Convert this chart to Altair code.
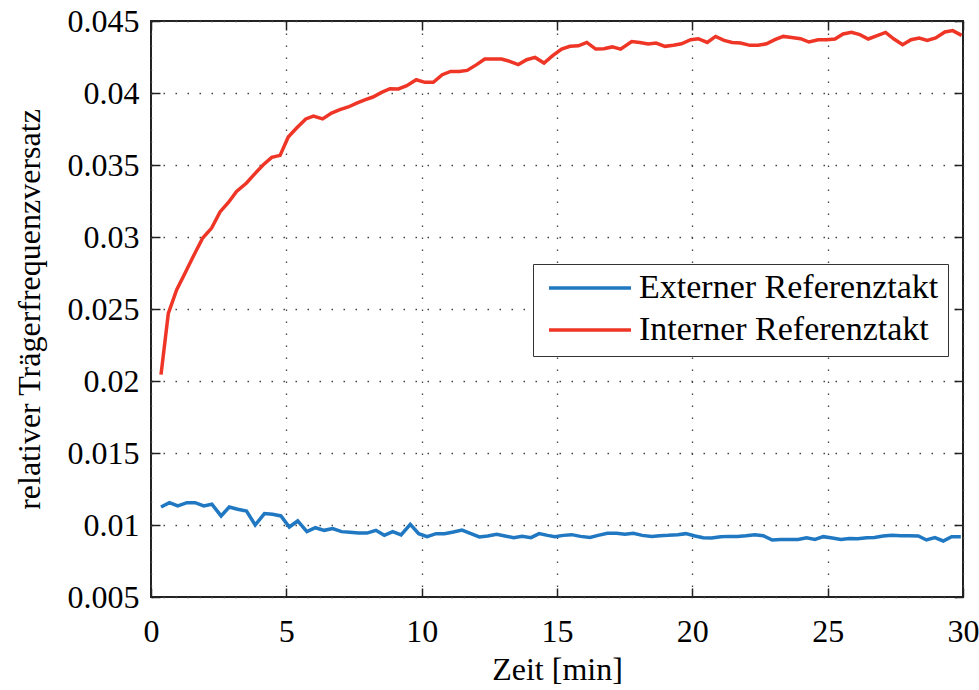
import altair as alt
import pandas as pd

# ---- data ----
series_names = ["Externer Referenztakt", "Interner Referenztakt"]
series_colors = ["#1f78c1", "#ee3526"]

ext_t = [0.37, 0.68, 0.99, 1.33, 1.63, 1.95, 2.25, 2.59, 2.89, 3.2,
         3.53, 3.85, 4.19, 4.49, 4.8, 5.11, 5.42, 5.76, 6.07, 6.4,
         6.71, 7.04, 7.35, 7.67, 7.98, 8.31, 8.62, 8.93, 9.24, 9.58,
         9.89, 10.2, 10.53, 10.84, 11.17, 11.49, 11.82, 12.13, 12.44, 12.77,
         13.08, 13.4, 13.71, 14.04, 14.34, 14.65,
         14.92, 15.23, 15.54, 15.87, 16.22, 16.52, 16.86, 17.2, 17.51, 17.82,
         18.15, 18.5, 18.8, 19.11, 19.46, 19.76, 20.1, 20.4, 20.71, 21.05,
         21.35, 21.67, 21.98, 22.31, 22.62, 22.95, 23.26, 23.6, 23.91, 24.22,
         24.53, 24.84, 25.17, 25.49, 25.8, 26.11, 26.44, 26.73, 27.05, 27.38,
         27.7, 28.0, 28.35, 28.65, 28.96, 29.27, 29.58, 29.92]
ext_v = [0.01125, 0.01155, 0.01132, 0.01155, 0.01155, 0.01132, 0.01144, 0.01063, 0.01125, 0.01109,
         0.01097, 0.0100, 0.01079, 0.01074, 0.01063, 0.00986, 0.01028, 0.00954, 0.00981, 0.00963,
         0.00975, 0.00954, 0.00949, 0.00944, 0.00944, 0.00963, 0.00928, 0.00954, 0.00931, 0.01005,
         0.0094, 0.00919, 0.0094, 0.0094, 0.00951, 0.00965, 0.0094, 0.00917, 0.00924, 0.00935,
         0.00924, 0.00912, 0.00921, 0.00912, 0.0094, 0.00928,
         0.00919, 0.00928, 0.00933, 0.00921, 0.00914, 0.00928, 0.00942, 0.00942, 0.00935, 0.00942,
         0.00928, 0.00921, 0.00926, 0.00928, 0.00933, 0.0094, 0.00924, 0.00912, 0.0091, 0.00919,
         0.00921, 0.00921, 0.00926, 0.00933, 0.00926, 0.00896, 0.009, 0.009, 0.009, 0.00912,
         0.009, 0.00919, 0.0091, 0.009, 0.00907, 0.00905, 0.00912, 0.00914, 0.00924, 0.00928,
         0.00926, 0.00926, 0.00924, 0.00896, 0.00912, 0.00889, 0.00919, 0.00919]

int_t = [0.37, 0.64, 0.95, 1.26, 1.56, 1.91, 2.24, 2.55, 2.86, 3.16,
         3.53, 3.84, 4.15, 4.46, 4.77, 5.07, 5.38, 5.72, 6.0, 6.34,
         6.67, 6.98, 7.29, 7.6, 7.9, 8.2, 8.52, 8.83, 9.14, 9.45, 9.8,
         10.12, 10.43, 10.76, 11.07, 11.38, 11.68, 12.03, 12.33, 12.65, 12.95,
         13.25, 13.57, 13.88, 14.19, 14.52, 14.84, 15.17, 15.48, 15.79, 16.1,
         16.43, 16.73, 17.04, 17.35,
         17.76, 18.06, 18.37, 18.66, 18.99, 19.3, 19.6, 19.94, 20.22, 20.55,
         20.86, 21.17, 21.47, 21.78, 22.13, 22.43, 22.74, 23.05, 23.36, 23.67,
         24.0, 24.31, 24.65, 24.96, 25.27, 25.57, 25.88, 26.19, 26.5, 26.83,
         27.14, 27.45, 27.77, 28.08, 28.38, 28.68, 28.99, 29.33, 29.62, 29.95]
int_v = [0.02044, 0.0247, 0.02634, 0.0275, 0.02865, 0.02993, 0.03062, 0.03174, 0.0324, 0.03317,
         0.03375, 0.0344, 0.03502, 0.03553, 0.03567, 0.03694, 0.03757, 0.0382, 0.0384, 0.0382,
         0.03861, 0.03884, 0.03903, 0.0393, 0.03953, 0.03972, 0.04004, 0.0403, 0.04028, 0.04051, 0.04092,
         0.04074, 0.04074, 0.04127, 0.0415, 0.0415, 0.04157, 0.04197, 0.04236, 0.04236, 0.04236,
         0.0422, 0.04197, 0.04231, 0.04247, 0.04208, 0.04259, 0.04305, 0.04324, 0.04328, 0.04351,
         0.04305, 0.04308, 0.0432, 0.04305,
         0.04358, 0.04351, 0.0434, 0.04347, 0.04324, 0.04331, 0.04342, 0.0437, 0.04377, 0.04351,
         0.04393, 0.04365, 0.04351, 0.04347, 0.04331, 0.04331, 0.04342, 0.0437, 0.04393, 0.04386,
         0.04377, 0.04354, 0.0437, 0.0437, 0.04375, 0.0441, 0.04421, 0.04405, 0.04375, 0.04398,
         0.04421, 0.04375, 0.04335, 0.0437, 0.04382, 0.04365, 0.04382, 0.04424, 0.04433, 0.044]

x_ticks = [0, 5, 10, 15, 20, 25, 30]
y_ticks = [0.005, 0.01, 0.015, 0.02, 0.025, 0.03, 0.035, 0.04, 0.045]

df = pd.concat([
    pd.DataFrame({"t": ext_t, "v": ext_v, "series": series_names[0]}),
    pd.DataFrame({"t": int_t, "v": int_v, "series": series_names[1]}),
], ignore_index=True)

FONT = "Liberation Serif"
FS = 32

base = alt.Chart(df)

lines = base.mark_line(strokeWidth=3.5).encode(
    x=alt.X("t:Q",
            scale=alt.Scale(domain=[0, 30], nice=False),
            axis=alt.Axis(orient="bottom", values=x_ticks, offset=-9, tickSize=9,
                          tickColor="#222", tickWidth=1.5, domain=False,
                          grid=True, gridDash=[1.5, 10.5], gridColor="#444", gridWidth=1.3,
                          labelFont=FONT, labelFontSize=FS, labelColor="black",
                          labelPadding=19, labelFlush=False,
                          title="Zeit [min]", titleFont=FONT, titleFontSize=FS,
                          titleFontWeight="normal", titleColor="black", titlePadding=7)),
    y=alt.Y("v:Q",
            scale=alt.Scale(domain=[0.005, 0.045], nice=False, zero=False),
            axis=alt.Axis(orient="left", values=y_ticks, format="~g", offset=-9, tickSize=9,
                          tickColor="#222", tickWidth=1.5, domain=False,
                          grid=True, gridDash=[1.5, 10.5], gridColor="#444", gridWidth=1.3,
                          labelFont=FONT, labelFontSize=FS, labelColor="black",
                          labelPadding=12, labelFlush=False,
                          title="relativer Trägerfrequenzversatz", titleFont=FONT,
                          titleFontSize=FS, titleFontWeight="normal", titleColor="black",
                          titlePadding=21)),
    color=alt.Color("series:N",
                    scale=alt.Scale(domain=series_names, range=series_colors),
                    legend=alt.Legend(orient="none", legendX=382, legendY=243, title=None,
                                      symbolType="stroke", symbolSize=6724,
                                      symbolStrokeWidth=3.5, symbolOffset=5,
                                      labelFont=FONT, labelFontSize=34, labelColor="black",
                                      labelOffset=6, labelLimit=600,
                                      padding=9, clipHeight=30, rowPadding=8,
                                      fillColor="white", strokeColor="#333")),
)

frame_ticks = base.mark_line(opacity=0).encode(
    x=alt.X("t:Q",
            axis=alt.Axis(orient="top", values=x_ticks, offset=-9, tickSize=9,
                          tickColor="#222", tickWidth=1.5, domain=False, grid=False,
                          labels=False, title=None)),
    y=alt.Y("v:Q",
            axis=alt.Axis(orient="right", values=y_ticks, offset=-9, tickSize=9,
                          tickColor="#222", tickWidth=1.5, domain=False, grid=False,
                          labels=False, title=None)),
    detail="series:N",
)

chart = alt.layer(lines, frame_ticks).resolve_axis(
    x="independent", y="independent"
).properties(
    width=812, height=576,
    autosize=alt.AutoSizeParams(type="none"),
    padding={"left": 151, "top": 21, "right": 16, "bottom": 93},
    background="white",
).configure_view(stroke="#222", strokeWidth=2)

chart.save("out.html", embed_options={"renderer": "svg", "actions": False})
